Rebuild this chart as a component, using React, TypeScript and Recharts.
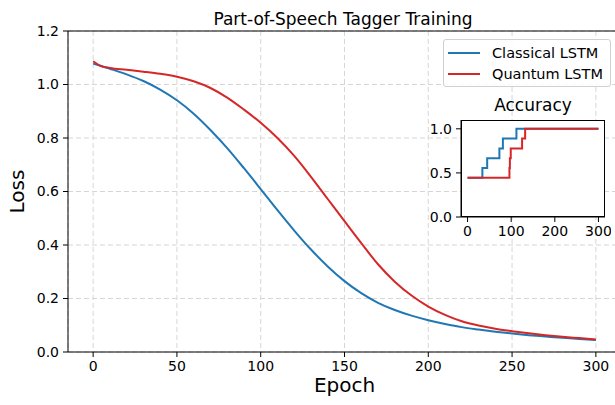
import {
  CartesianGrid,
  Label,
  Legend,
  Line,
  LineChart,
  ReferenceLine,
  XAxis,
  YAxis,
} from 'recharts'

// loss curves, sampled off the plot
const epochs = [0, 5, 10, 20, 30, 40, 50, 60, 70, 80, 90, 100, 110, 120, 130, 140, 150, 160, 170, 180, 190, 200, 210, 220, 230, 240, 250, 260, 270, 280, 290, 300]
const classicalLoss = [1.078, 1.069, 1.059, 1.038, 1.013, 0.981, 0.941, 0.891, 0.83, 0.762, 0.687, 0.609, 0.53, 0.454, 0.383, 0.32, 0.265, 0.22, 0.184, 0.157, 0.136, 0.119, 0.105, 0.093, 0.084, 0.076, 0.069, 0.063, 0.058, 0.053, 0.049, 0.045]
const quantumLoss = [1.087, 1.068, 1.062, 1.055, 1.048, 1.04, 1.029, 1.012, 0.987, 0.951, 0.906, 0.857, 0.8, 0.733, 0.655, 0.572, 0.489, 0.407, 0.328, 0.263, 0.211, 0.17, 0.139, 0.115, 0.099, 0.087, 0.078, 0.07, 0.063, 0.057, 0.052, 0.047]

// accuracy steps (inset)
const classicalAccEpochs = [0, 34, 45, 73, 81, 112, 300]
const classicalAcc = [0.444, 0.556, 0.667, 0.778, 0.889, 1.0, 1.0]
const quantumAccEpochs = [0, 96, 97, 99, 125, 132, 300]
const quantumAcc = [0.444, 0.556, 0.667, 0.778, 0.889, 1.0, 1.0]

const lossTicksX = [0, 50, 100, 150, 200, 250, 300]
const lossTicksY = [0, 0.2, 0.4, 0.6, 0.8, 1.0, 1.2]
const accTicksX = [0, 100, 200, 300]
const accTicksY = [0, 0.5, 1.0]

const BLUE = '#1f77b4'
const RED = '#d62728'
const FONT = '"DejaVu Sans", sans-serif'

const lossData = epochs.map((epoch, i) => ({ epoch, classical: classicalLoss[i], quantum: quantumLoss[i] }))
const classicalAccData = classicalAccEpochs.map((epoch, i) => ({ epoch, acc: classicalAcc[i] }))
const quantumAccData = quantumAccEpochs.map((epoch, i) => ({ epoch, acc: quantumAcc[i] }))

const tickStyle = { fill: '#000', fontSize: 14, fontFamily: FONT }
const fmt1 = (v: number) => v.toFixed(1)

function LegendBox() {
  const items = [
    { name: 'Classical LSTM', color: BLUE },
    { name: 'Quantum LSTM', color: RED },
  ]
  return (
    <div
      style={{
        width: 168,
        height: 48,
        boxSizing: 'border-box',
        border: '1px solid #d0d0d0',
        borderRadius: 3,
        background: 'rgba(255,255,255,0.85)',
        padding: '2px 0 0 4px',
        fontFamily: FONT,
        fontSize: 14.5,
      }}
    >
      {items.map((it) => (
        <div key={it.name} style={{ display: 'flex', alignItems: 'center', height: 21 }}>
          <span style={{ display: 'inline-block', width: 32, height: 2, background: it.color, marginRight: 12 }} />
          <span>{it.name}</span>
        </div>
      ))}
    </div>
  )
}

export default function App() {
  return (
    <div style={{ position: 'absolute', left: 0, top: 0, width: 615, height: 405, overflow: 'hidden', background: '#fff' }}>
      <LineChart width={640} height={405} data={lossData} margin={{ top: 31, right: 19, bottom: 0, left: 0 }}>
        <CartesianGrid stroke="#d6d6d6" strokeDasharray="5 3" />
        <XAxis
          dataKey="epoch"
          type="number"
          domain={[-15, 315]}
          ticks={lossTicksX}
          height={53}
          tick={tickStyle}
          tickSize={5}
          tickMargin={4}
          axisLine={{ stroke: '#000' }}
          tickLine={{ stroke: '#000' }}
        >
          <Label
            content={({ viewBox }: any) => (
              <text x={viewBox.x + viewBox.width / 2} y={viewBox.y + 40} textAnchor="middle" fontSize={20} fontFamily={FONT} fill="#000">
                Epoch
              </text>
            )}
          />
        </XAxis>
        <YAxis
          domain={[0, 1.2]}
          ticks={lossTicksY}
          tickFormatter={fmt1}
          width={68}
          tick={tickStyle}
          tickSize={5}
          tickMargin={4}
          axisLine={{ stroke: '#000' }}
          tickLine={{ stroke: '#000' }}
        >
          <Label
            content={({ viewBox }: any) => {
              const cx = 24
              const cy = viewBox.y + viewBox.height / 2
              return (
                <text x={cx} y={cy} transform={`rotate(-90 ${cx} ${cy})`} textAnchor="middle" fontSize={20} fontFamily={FONT} fill="#000">
                  Loss
                </text>
              )
            }}
          />
        </YAxis>
        <ReferenceLine y={1.2} stroke="#000" />
        <Legend
          layout="vertical"
          align="center"
          verticalAlign="middle"
          content={() => <LegendBox />}
          wrapperStyle={{ position: 'absolute', left: 443, top: 39, width: 168, height: 48 }}
        />
        <Line type="monotone" dataKey="classical" name="Classical LSTM" stroke={BLUE} strokeWidth={2} dot={false} isAnimationActive={false} />
        <Line type="monotone" dataKey="quantum" name="Quantum LSTM" stroke={RED} strokeWidth={2} dot={false} isAnimationActive={false} />
      </LineChart>

      <svg width={615} height={405} style={{ position: 'absolute', left: 0, top: 0, pointerEvents: 'none' }}>
        <text x={343} y={25} textAnchor="middle" fontSize={17} fontFamily={FONT} fill="#000">
          Part-of-Speech Tagger Training
        </text>
        <text x={533} y={111} textAnchor="middle" fontSize={17} fontFamily={FONT} fill="#000">
          Accuracy
        </text>
      </svg>

      <div style={{ position: 'absolute', left: 461, top: 120, width: 144, height: 97, background: '#fff', border: '1px solid #000', boxSizing: 'border-box' }} />

      <div style={{ position: 'absolute', left: 421, top: 115 }}>
        <LineChart width={190} height={132} margin={{ top: 5, right: 6, bottom: 0, left: 0 }}>
          <XAxis
            dataKey="epoch"
            type="number"
            domain={[-15, 315]}
            ticks={accTicksX}
            height={30}
            tick={tickStyle}
            tickSize={5}
            tickMargin={4}
            axisLine={{ stroke: '#000' }}
            tickLine={{ stroke: '#000' }}
          />
          <YAxis
            domain={[0, 1.1]}
            ticks={accTicksY}
            tickFormatter={fmt1}
            width={40}
            tick={tickStyle}
            tickSize={5}
            tickMargin={4}
            axisLine={{ stroke: '#000' }}
            tickLine={{ stroke: '#000' }}
          />
          <Line data={classicalAccData} type="stepAfter" dataKey="acc" stroke={BLUE} strokeWidth={2} dot={false} isAnimationActive={false} />
          <Line data={quantumAccData} type="stepAfter" dataKey="acc" stroke={RED} strokeWidth={2} dot={false} isAnimationActive={false} />
        </LineChart>
      </div>
    </div>
  )
}
